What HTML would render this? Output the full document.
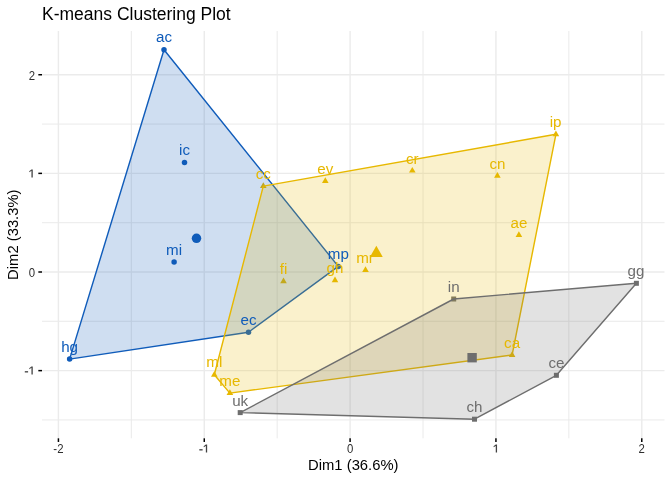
<!DOCTYPE html><html><head><meta charset="utf-8"><style>html,body{margin:0;padding:0;background:#fff;}svg{display:block;will-change:transform;}</style></head><body>
<svg width="672" height="480" viewBox="0 0 672 480" font-family='"Liberation Sans", sans-serif'>
<rect width="672" height="480" fill="#fff"/>
<g stroke="#E9E9E9" stroke-width="0.95"><line x1="131.34" y1="31.0" x2="131.34" y2="438.3"/><line x1="277.18" y1="31.0" x2="277.18" y2="438.3"/><line x1="423.02" y1="31.0" x2="423.02" y2="438.3"/><line x1="568.86" y1="31.0" x2="568.86" y2="438.3"/><line x1="42.0" y1="124.06" x2="664.5" y2="124.06"/><line x1="42.0" y1="222.69" x2="664.5" y2="222.69"/><line x1="42.0" y1="321.31" x2="664.5" y2="321.31"/><line x1="42.0" y1="419.94" x2="664.5" y2="419.94"/></g>
<g stroke="#EBEBEB" stroke-width="1.42"><line x1="58.42" y1="31.0" x2="58.42" y2="438.3"/><line x1="204.26" y1="31.0" x2="204.26" y2="438.3"/><line x1="350.10" y1="31.0" x2="350.10" y2="438.3"/><line x1="495.94" y1="31.0" x2="495.94" y2="438.3"/><line x1="641.78" y1="31.0" x2="641.78" y2="438.3"/><line x1="42.0" y1="74.74" x2="664.5" y2="74.74"/><line x1="42.0" y1="173.37" x2="664.5" y2="173.37"/><line x1="42.0" y1="272.00" x2="664.5" y2="272.00"/><line x1="42.0" y1="370.63" x2="664.5" y2="370.63"/></g>
<circle cx="164.00" cy="49.80" r="2.75" fill="#105CBA"/><circle cx="184.50" cy="162.40" r="2.75" fill="#105CBA"/><circle cx="174.10" cy="262.10" r="2.75" fill="#105CBA"/><circle cx="69.60" cy="359.10" r="2.75" fill="#105CBA"/><circle cx="248.50" cy="332.20" r="2.75" fill="#105CBA"/><circle cx="338.30" cy="266.40" r="2.75" fill="#105CBA"/><polygon points="263.30,182.29 266.60,188.01 260.00,188.01" fill="#E7B800"/><polygon points="325.30,177.19 328.60,182.91 322.00,182.91" fill="#E7B800"/><polygon points="412.30,166.89 415.60,172.61 409.00,172.61" fill="#E7B800"/><polygon points="497.40,171.99 500.70,177.71 494.10,177.71" fill="#E7B800"/><polygon points="555.90,130.49 559.20,136.21 552.60,136.21" fill="#E7B800"/><polygon points="518.90,231.19 522.20,236.91 515.60,236.91" fill="#E7B800"/><polygon points="283.50,277.59 286.80,283.31 280.20,283.31" fill="#E7B800"/><polygon points="335.00,276.49 338.30,282.21 331.70,282.21" fill="#E7B800"/><polygon points="365.50,266.19 368.80,271.91 362.20,271.91" fill="#E7B800"/><polygon points="214.30,370.99 217.60,376.71 211.00,376.71" fill="#E7B800"/><polygon points="229.90,389.29 233.20,395.01 226.60,395.01" fill="#E7B800"/><polygon points="512.10,351.19 515.40,356.91 508.80,356.91" fill="#E7B800"/><rect x="451.20" y="296.50" width="5.00" height="5.00" fill="#6E6E6E"/><rect x="633.90" y="280.80" width="5.00" height="5.00" fill="#6E6E6E"/><rect x="553.90" y="372.80" width="5.00" height="5.00" fill="#6E6E6E"/><rect x="472.00" y="416.70" width="5.00" height="5.00" fill="#6E6E6E"/><rect x="237.70" y="410.10" width="5.00" height="5.00" fill="#6E6E6E"/>
<polygon points="164.00,49.80 338.30,266.40 248.50,332.20 69.60,359.10" fill="#105CBA" fill-opacity="0.2" stroke="#105CBA" stroke-width="1.42" stroke-linejoin="round"/>
<polygon points="263.30,186.10 555.90,134.30 512.10,355.00 229.90,393.10 214.30,374.80" fill="#E7B800" fill-opacity="0.2" stroke="#E7B800" stroke-width="1.42" stroke-linejoin="round"/>
<polygon points="453.70,299.00 636.40,283.30 556.40,375.30 474.50,419.20 240.20,412.60" fill="#6E6E6E" fill-opacity="0.2" stroke="#6E6E6E" stroke-width="1.42" stroke-linejoin="round"/>
<text x="164.00" y="41.70" fill="#105CBA" text-anchor="middle" font-size="15.17">ac</text><text x="184.50" y="154.90" fill="#105CBA" text-anchor="middle" font-size="15.17">ic</text><text x="174.10" y="255.00" fill="#105CBA" text-anchor="middle" font-size="15.17">mi</text><text x="69.60" y="351.60" fill="#105CBA" text-anchor="middle" font-size="15.17">hg</text><text x="248.50" y="324.70" fill="#105CBA" text-anchor="middle" font-size="15.17">ec</text><text x="338.30" y="258.90" fill="#105CBA" text-anchor="middle" font-size="15.17">mp</text><text x="263.30" y="178.60" fill="#E7B800" text-anchor="middle" font-size="15.17">cc</text><text x="325.30" y="173.50" fill="#E7B800" text-anchor="middle" font-size="15.17">ev</text><text x="412.30" y="164.20" fill="#E7B800" text-anchor="middle" font-size="15.17">cr</text><text x="497.40" y="169.20" fill="#E7B800" text-anchor="middle" font-size="15.17">cn</text><text x="555.60" y="126.80" fill="#E7B800" text-anchor="middle" font-size="15.17">ip</text><text x="518.90" y="227.50" fill="#E7B800" text-anchor="middle" font-size="15.17">ae</text><text x="283.50" y="273.90" fill="#E7B800" text-anchor="middle" font-size="15.17">fi</text><text x="335.00" y="272.80" fill="#E7B800" text-anchor="middle" font-size="15.17">gh</text><text x="365.00" y="262.50" fill="#E7B800" text-anchor="middle" font-size="15.17">mr</text><text x="214.30" y="366.70" fill="#E7B800" text-anchor="middle" font-size="15.17">ml</text><text x="229.90" y="385.60" fill="#E7B800" text-anchor="middle" font-size="15.17">me</text><text x="512.10" y="347.50" fill="#E7B800" text-anchor="middle" font-size="15.17">ca</text><text x="453.70" y="291.50" fill="#6E6E6E" text-anchor="middle" font-size="15.17">in</text><text x="636.00" y="275.80" fill="#6E6E6E" text-anchor="middle" font-size="15.17">gg</text><text x="556.40" y="367.80" fill="#6E6E6E" text-anchor="middle" font-size="15.17">ce</text><text x="474.50" y="411.70" fill="#6E6E6E" text-anchor="middle" font-size="15.17">ch</text><text x="240.20" y="406.10" fill="#6E6E6E" text-anchor="middle" font-size="15.17">uk</text>
<circle cx="196.5" cy="238.3" r="4.75" fill="#105CBA"/>
<polygon points="376.35,245.83 382.73,256.89 369.97,256.89" fill="#E7B800"/>
<rect x="467.40" y="353.00" width="9.40" height="9.40" fill="#6E6E6E"/>
<g stroke="#000" stroke-width="1.5"><line x1="58.42" y1="438.3" x2="58.42" y2="441.97"/><line x1="204.26" y1="438.3" x2="204.26" y2="441.97"/><line x1="350.10" y1="438.3" x2="350.10" y2="441.97"/><line x1="495.94" y1="438.3" x2="495.94" y2="441.97"/><line x1="641.78" y1="438.3" x2="641.78" y2="441.97"/><line x1="38.33" y1="74.74" x2="42.0" y2="74.74"/><line x1="38.33" y1="173.37" x2="42.0" y2="173.37"/><line x1="38.33" y1="272.00" x2="42.0" y2="272.00"/><line x1="38.33" y1="370.63" x2="42.0" y2="370.63"/></g>
<g fill="#2E2E2E" font-size="11.73"><text transform="translate(58.42,453.3) scale(0.97,1.08)" text-anchor="middle">-2</text><text transform="translate(350.10,453.3) scale(0.97,1.08)" text-anchor="middle">0</text><text transform="translate(641.78,453.3) scale(0.97,1.08)" text-anchor="middle">2</text><path d="M495.75,444.50 L497.05,444.50 L497.05,452.60 L495.75,452.60 Z M495.75,444.50 L496.60,445.20 L493.80,447.30 L493.50,446.30 Z" fill-opacity="0.9"/><path d="M205.85,444.50 L207.15,444.50 L207.15,452.60 L205.85,452.60 Z M205.85,444.50 L206.70,445.20 L203.90,447.30 L203.60,446.30 Z" fill-opacity="0.9"/><rect x="199.30" y="449.05" width="3.3" height="1.5" fill-opacity="0.8"/><text transform="translate(35.0,79.64) scale(0.97,1.08)" text-anchor="end">2</text><text transform="translate(35.0,276.90) scale(0.97,1.08)" text-anchor="end">0</text><path d="M31.45,169.40 L32.75,169.40 L32.75,177.50 L31.45,177.50 Z M31.45,169.40 L32.30,170.10 L29.50,172.20 L29.20,171.20 Z" fill-opacity="0.9"/><path d="M31.45,366.40 L32.75,366.40 L32.75,374.50 L31.45,374.50 Z M31.45,366.40 L32.30,367.10 L29.50,369.20 L29.20,368.20 Z" fill-opacity="0.9"/><rect x="24.80" y="371.05" width="3.3" height="1.5" fill-opacity="0.8"/></g>
<text x="353.3" y="470.4" text-anchor="middle" font-size="14.8" fill="#000">Dim1 (36.6%)</text>
<text transform="translate(18.2,234.7) rotate(-90)" x="0" y="0" text-anchor="middle" font-size="14.8" fill="#000">Dim2 (33.3%)</text>
<text x="42" y="19.8" font-size="17.5" fill="#000">K-means Clustering Plot</text>
</svg></body></html>
